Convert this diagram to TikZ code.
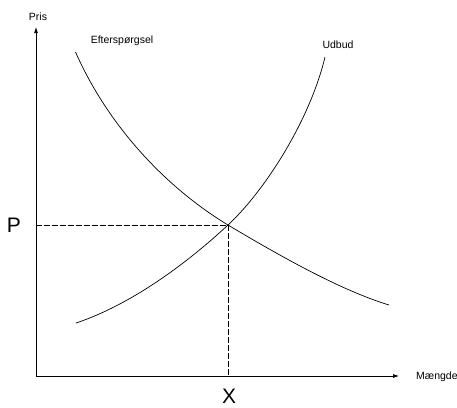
\documentclass[tikz,border=0pt]{standalone}
\usepackage{fontspec}
\setmainfont{Liberation Sans}
\usetikzlibrary{arrows.meta}
\begin{document}
\begin{tikzpicture}[x=1pt,y=-1pt,
  axis/.style={line width=0.7pt,-{Latex[length=6pt,width=4pt]}},
  curve/.style={line width=0.7pt},
  guide/.style={line width=1pt,dash pattern=on 5.5pt off 2.5pt},
  small/.style={font=\fontsize{10.5}{12}\selectfont,inner sep=0pt},
  big/.style={font=\fontsize{21}{24}\selectfont,inner sep=0pt}]
\useasboundingbox (0,0) rectangle (457,407);
\fill[white] (0,0) rectangle (457,407);
\coordinate (O) at (36,376);
\coordinate (ytip) at (36,27);
\coordinate (xtip) at (399,376);
\coordinate (E) at (228,225);
\coordinate (Py) at (36,225);
\coordinate (Xx) at (228,376);
\draw[axis] (O) -- (ytip);
\draw[axis] (O) -- (xtip);
\node[small] (pris) at (38,17) {Pris};
\node[small,anchor=west] (maengde) at (416,377) {Mængde};
\node[small] (eft) at (122,41) {Efterspørgsel};
\node[small] (udb) at (338,45) {Udbud};
\node[big] (P) at (14,225) {P};
\node[big] (X) at (229,396) {X};
\draw[curve] (75.5,52) .. controls (110,130) and (170,190) .. (E)
  .. controls (280,256) and (340,290) .. (389,305);
\draw[curve] (76,323) .. controls (130,305) and (185,265) .. (E)
  .. controls (265,190.6) and (310,120) .. (325,57);
\draw[guide] (Py) -- (E) -- (Xx);
\end{tikzpicture}
\end{document}
